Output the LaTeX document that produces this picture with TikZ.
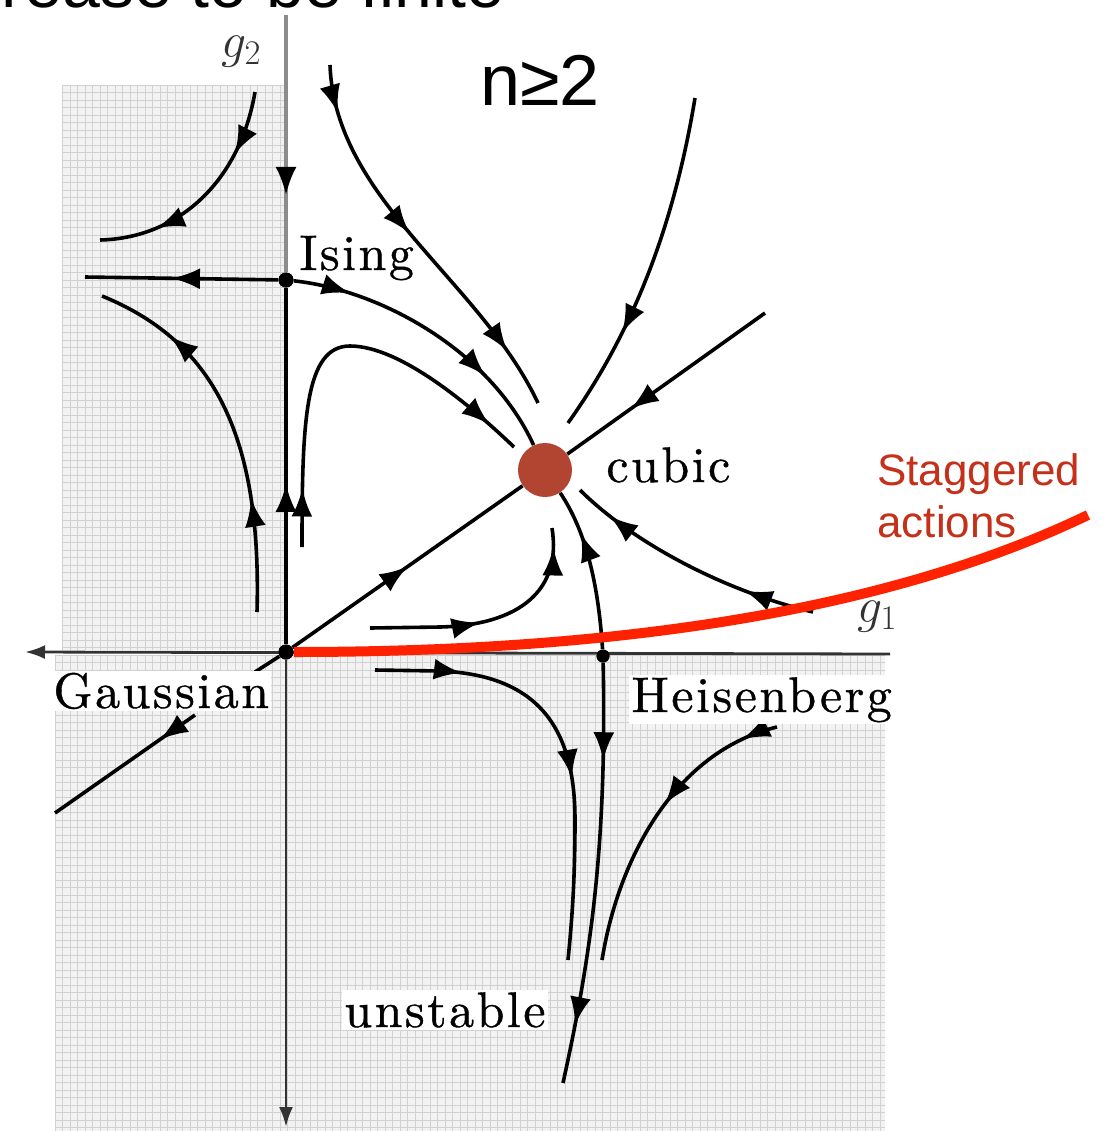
\documentclass[tikz,border=0pt]{standalone}
\usepackage{fontspec}
\usetikzlibrary{arrows.meta,decorations.markings}
\newfontfamily\sansf{Liberation Sans}
\newfontfamily\labf{lmroman10-regular.otf}[LetterSpace=5,FakeBold=0.7]
\definecolor{cubicred}{RGB}{178,68,50}
\definecolor{stagtext}{RGB}{196,48,26}
\definecolor{stagline}{RGB}{255,34,0}
\tikzset{
  flow/.style={line width=1.8pt,black},
  fa/.style={postaction={decorate,decoration={markings,mark=at position #1 with {\arrow[black]{Latex[length=14pt,width=10.5pt]}}}}},
  dotnode/.style={circle,fill=black,inner sep=0pt,minimum size=7.5pt},
  lab/.style={font=\labf\fontsize{25}{25}\selectfont,inner sep=1pt},
  gridl/.style={black!18,line width=0.5pt},
  bigsans/.style={font=\sansf\fontsize{36}{36}\selectfont,inner sep=0pt},
  stagfont/.style={font=\sansf\fontsize{22}{22}\selectfont,text=stagtext,inner sep=0pt},
  glab/.style={font=\fontsize{26}{26}\selectfont,anchor=base west,inner sep=0pt,text=black!80},
}
\begin{document}
\begin{tikzpicture}[x=0.5pt,y=-0.5pt]
\useasboundingbox (0,0) rectangle (1105,1131);
% shaded regions
\fill[black!5] (62,85) rectangle (285,650);
\fill[black!5] (55,655) rectangle (885,1131);
\begin{scope}
  \clip (62,85) rectangle (285,650) (55,655) rectangle (885,1131);
  \foreach \i in {0,...,112} \draw[gridl] ({55+7.5*\i},85) -- ++(0,1046);
  \foreach \j in {0,...,140} \draw[gridl] (55,{85+7.5*\j}) -- ++(830,0);
\end{scope}
% title texts
\node[bigsans,font=\sansf\fontsize{34}{34}\selectfont,anchor=base east] (title) at (505,7) {increase to be finite};
\node[bigsans,anchor=base west] (nlab) at (480,105) {n≥2};
% fixed points
\node[dotnode] (G) at (286,652) {};
\node[dotnode] (I) at (286,280) {};
\node[dotnode,minimum size=6.5pt] (H) at (603,656) {};
\node[circle,fill=cubicred,minimum size=27pt,inner sep=0pt] (C) at (545,470) {};
% free ends
\coordinate (ytop) at (286,15);
\coordinate (ybot) at (286,1127);
\coordinate (xl) at (25,652);
\coordinate (xr) at (890,654);
\coordinate (ileft) at (85,277);
\coordinate (tla) at (255,92);
\coordinate (tlb) at (100,240);
\coordinate (lla) at (257,612);
\coordinate (llb) at (102,296);
\coordinate (hka) at (302,547);
\coordinate (hkb) at (514,447);
\coordinate (c8a) at (330,65);
\coordinate (c8b) at (538,403);
\coordinate (c9a) at (695,98);
\coordinate (c9b) at (568,423);
\coordinate (c10) at (765,313);
\coordinate (c11) at (255,672);
\coordinate (c12a) at (370,628);
\coordinate (c12b) at (552,528);
\coordinate (c14a) at (813,612);
\coordinate (c14b) at (580,490);
\coordinate (c15a) at (375,670);
\coordinate (c15b) at (568,960);
\coordinate (c16) at (563,1083);
\coordinate (c17a) at (777,727);
\coordinate (c17b) at (602,960);
\coordinate (c18a) at (195,715);
\coordinate (c18b) at (55,813);
\coordinate (stag) at (1088,515);
% axes
\draw[line width=1.4pt,black!80,-{Latex[length=10pt,width=7pt]}] (xr) -- (xl);
\draw[flow,black!45,fa=0.7] (ytop) -- (I);
\draw[flow,fa=0.45] (G) -- (I);
\draw[line width=1.4pt,black!80,-{Latex[length=10pt,width=7pt]}] (G) -- (ybot);
% flow lines
\draw[flow,fa=0.55] (I) -- (ileft);
\draw[flow,fa=0.28,fa=0.75] (tla) .. controls (240,180) and (180,238) .. (tlb);
\draw[flow,fa=0.3,fa=0.79] (lla) .. controls (262,430) and (210,340) .. (llb);
\draw[flow,fa=0.14,fa=0.92] (hka) .. controls (302,420) and (305,346) .. (350,346) .. controls (400,346) and (470,405) .. (hkb);
\draw[flow,fa=0.19,fa=0.72] (I) .. controls (380,290) and (490,350) .. (C);
\draw[flow,fa=0.12,fa=0.47,fa=0.85] (c8a) .. controls (335,200) and (480,280) .. (c8b);
\draw[flow,fa=0.7] (c9a) .. controls (670,250) and (620,350) .. (c9b);
\draw[flow,fa=0.68] (c10) -- (C);
\draw[flow] (c11) -- (G);
\draw[flow,fa=0.5] (G) -- (C);
\draw[flow,fa=0.45,fa=0.92] (c12a) -- (440,627) .. controls (520,625) and (562,590) .. (c12b);
\draw[flow,fa=0.72] (H) .. controls (598,580) and (585,530) .. (C);
\draw[flow,fa=0.27,fa=0.85] (c14a) .. controls (720,590) and (630,540) .. (c14b);
\draw[flow,fa=0.2,fa=0.58] (c15a) -- (440,671) .. controls (540,675) and (575,730) .. (575,820) .. controls (575,880) and (572,920) .. (c15b);
\draw[flow,fa=0.23,fa=0.86] (H) .. controls (607,850) and (590,960) .. (c16);
\draw[flow,fa=0.12,fa=0.45] (c17a) .. controls (680,750) and (620,850) .. (c17b);
\draw[flow,fa=0.25] (c18a) -- (c18b);
% labels
\node[glab] (g2l) at (221,57) {$g_2$};
\node[glab] (g1l) at (857,622) {$g_1$};
\node[lab,anchor=base west] (isingl) at (297,270) {Ising};
\node[lab,anchor=base west] (cubicl) at (604,482) {cubic};
\node[lab,fill=white,anchor=base west] (gaussl) at (51,708) {Gaussian};
\node[lab,fill=white,anchor=base west] (heisl) at (629,712) {Heisenberg};
\node[lab,fill=white,anchor=base west] (unstl) at (342,1027) {unstable};
% staggered actions
\draw[line width=5pt,stagline] (G.east) .. controls (600,652) and (880,615) .. (stag);
\node[stagfont,anchor=base west] (stag1) at (877,485) {Staggered};
\node[stagfont,anchor=base west] (stag2) at (877,537) {actions};
% redraw fixed points on top
\node[dotnode] at (G) {};
\node[dotnode] at (I) {};
\node[dotnode,minimum size=6.5pt] at (H) {};
\end{tikzpicture}
\end{document}
